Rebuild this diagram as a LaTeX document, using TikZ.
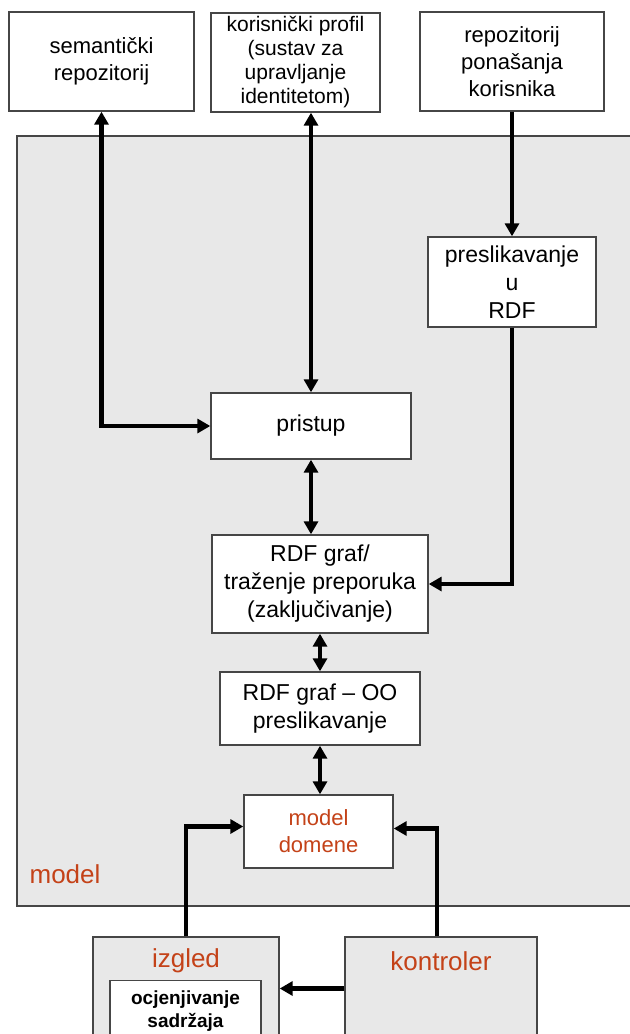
\documentclass[tikz,border=0pt]{standalone}
\usepackage{fontspec}
\setmainfont{Liberation Sans}
\usepackage{xcolor}
\definecolor{accent}{RGB}{196,66,24}
\definecolor{panel}{RGB}{232,232,232}
\definecolor{edge}{RGB}{70,70,70}
\usepackage{tikz}
\usetikzlibrary{arrows.meta,positioning}

\begin{document}
\begin{tikzpicture}[
  x=0.5pt,y=-0.5pt,
  box/.style={rectangle,draw=edge,line width=0.7pt,fill=white,align=center,
              inner sep=1pt,font=\fontsize{11.5}{14}\selectfont},
  topbox/.style={box,minimum height=49.5pt,font=\fontsize{11}{13.5}\selectfont},
  area/.style={rectangle,draw=edge,line width=0.7pt,fill=panel,inner sep=0pt},
  lbl/.style={text=accent,inner sep=0pt,font=\fontsize{13}{15}\selectfont},
  arr/.style={-{Triangle[length=6.5pt,width=7pt]},line width=2.4pt},
  arrs/.style={{Triangle[length=6.5pt,width=7pt]}-{Triangle[length=6.5pt,width=7pt]},line width=2.4pt}
]
  \useasboundingbox (0,0) rectangle (629,1034);

  \node[area,minimum width=316pt,minimum height=385pt] (mdl) at (333,521) {};
  \node[lbl,anchor=base] (mdlt) at (65,883) {model};

  \node[topbox,minimum width=92.5pt] (sem) at (101.5,61.5) {semantički\\repozitorij};
  \node[topbox,minimum width=84.5pt,font=\fontsize{10.5}{12}\selectfont] (prof) at (295.5,62.5)
    {korisnički profil\\(sustav za\\upravljanje\\identitetom)};
  \node[topbox,minimum width=92pt] (pon) at (512,61.5) {repozitorij\\ponašanja\\korisnika};

  \node[box,minimum width=84pt,minimum height=45pt] (presl) at (512,282) {preslikavanje\\u\\RDF};
  \node[box,minimum width=100pt,minimum height=33pt] (pris) at (311,426) {pristup};
  \node[box,minimum width=108pt,minimum height=49pt] (rdf) at (320,584)
    {RDF graf/\\traženje preporuka\\(zaključivanje)};
  \node[box,minimum width=100pt,minimum height=36.5pt] (oo) at (320,708.5)
    {RDF graf – OO\\preslikavanje};
  \node[box,minimum width=74.5pt,minimum height=36.5pt,text=accent,
        font=\fontsize{11}{13.5}\selectfont] (dom) at (318.5,831.5) {model\\domene};

  \node[area,minimum width=93pt,minimum height=51.5pt] (izg) at (186,988.5) {};
  \node[lbl,anchor=base] (izgt) at (186,967) {izgled};
  \node[box,minimum width=75.5pt,minimum height=30.5pt,
        font=\fontsize{9.5}{11.5}\selectfont\bfseries] (ocj) at (185.5,1011)
    {ocjenjivanje\\sadržaja};
  \node[area,minimum width=96pt,minimum height=51.5pt] (kon) at (441,988.5) {};
  \node[lbl,anchor=base] (kont) at (441,970) {kontroler};

  \draw[arrs] (sem.south) |- (pris.west);
  \draw[arrs] (pris.north) -- (pris.north |- prof.south);
  \draw[arr] (pon) -- (presl);
  \draw[arr] (presl.south) |- (rdf.east);
  \draw[arrs] (pris.south) -- (pris.south |- rdf.north);
  \draw[arrs] (rdf) -- (oo);
  \draw[arrs] (oo.south) -- (oo.south |- dom.north);
  \draw[arr] (izg.north) |- ([yshift=2.5pt]dom.west);
  \draw[arr] ([xshift=-2pt]kon.north) |- ([yshift=1.5pt]dom.east);
  \draw[arr] (kon.west) -- (izg.east);
\end{tikzpicture}
\end{document}
